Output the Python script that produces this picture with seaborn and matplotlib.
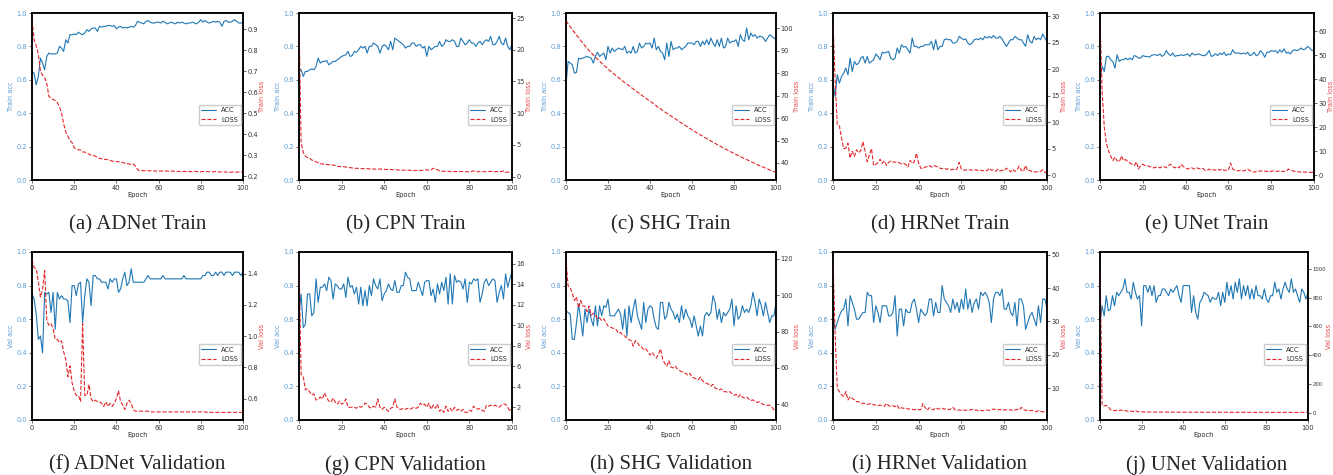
import numpy as np
import matplotlib
matplotlib.use("Agg")
import matplotlib.pyplot as plt
from matplotlib.ticker import MultipleLocator
import seaborn as sns

epochs = np.arange(101)

# ---- train curves ----
adnet_train_acc = [
    0.65, 0.64, 0.57, 0.62, 0.73, 0.70, 0.66, 0.74, 0.76, 0.755,
    0.755, 0.755, 0.76, 0.80, 0.79, 0.77, 0.84, 0.82, 0.87, 0.87,
    0.875, 0.87, 0.885, 0.875, 0.87, 0.88, 0.90, 0.89, 0.905, 0.91,
    0.91, 0.89, 0.92, 0.915, 0.92, 0.92, 0.925, 0.925, 0.92, 0.925,
    0.905, 0.915, 0.92, 0.91, 0.915, 0.91, 0.915, 0.92, 0.915, 0.925,
    0.95, 0.945, 0.94, 0.935, 0.95, 0.955, 0.945, 0.94, 0.94, 0.945,
    0.945, 0.94, 0.95, 0.945, 0.935, 0.94, 0.945, 0.94, 0.935, 0.945,
    0.94, 0.945, 0.94, 0.935, 0.94, 0.94, 0.945, 0.94, 0.935, 0.945,
    0.96, 0.945, 0.955, 0.945, 0.94, 0.945, 0.95, 0.945, 0.95, 0.945,
    0.92, 0.95, 0.955, 0.945, 0.945, 0.95, 0.96, 0.95, 0.94, 0.94,
    0.945]
adnet_train_loss = [
    0.94, 0.85, 0.82, 0.78, 0.70, 0.68, 0.67, 0.64, 0.58, 0.57,
    0.565, 0.56, 0.55, 0.53, 0.50, 0.45, 0.41, 0.39, 0.37, 0.36,
    0.335, 0.33, 0.325, 0.325, 0.315, 0.315, 0.31, 0.305, 0.30, 0.30,
    0.295, 0.29, 0.285, 0.283, 0.28, 0.28, 0.278, 0.275, 0.272, 0.27,
    0.27, 0.268, 0.268, 0.265, 0.262, 0.26, 0.258, 0.255, 0.258, 0.248,
    0.232, 0.226, 0.227, 0.226, 0.226, 0.227, 0.225, 0.226, 0.225, 0.224,
    0.224, 0.225, 0.224, 0.225, 0.224, 0.224, 0.225, 0.224, 0.223, 0.223,
    0.223, 0.222, 0.223, 0.222, 0.223, 0.222, 0.222, 0.223, 0.222, 0.221,
    0.221, 0.222, 0.221, 0.222, 0.221, 0.221, 0.221, 0.222, 0.221, 0.22,
    0.221, 0.22, 0.22, 0.219, 0.218, 0.22, 0.219, 0.219, 0.22, 0.219,
    0.219]

cpn_train_acc = [
    0.66, 0.66, 0.62, 0.65, 0.65, 0.66, 0.665, 0.66, 0.68, 0.73,
    0.70, 0.71, 0.71, 0.715, 0.69, 0.70, 0.71, 0.71, 0.72, 0.73,
    0.74, 0.745, 0.75, 0.77, 0.74, 0.745, 0.77, 0.765, 0.78, 0.80,
    0.79, 0.80, 0.76, 0.80, 0.80, 0.82, 0.81, 0.80, 0.76, 0.80,
    0.81, 0.80, 0.78, 0.83, 0.78, 0.85, 0.84, 0.83, 0.82, 0.81,
    0.79, 0.80, 0.80, 0.82, 0.82, 0.80, 0.81, 0.81, 0.79, 0.80,
    0.74, 0.80, 0.78, 0.79, 0.80, 0.80, 0.83, 0.80, 0.81, 0.84,
    0.83, 0.83, 0.84, 0.83, 0.80, 0.80, 0.85, 0.83, 0.81, 0.82,
    0.84, 0.82, 0.82, 0.80, 0.82, 0.83, 0.81, 0.83, 0.84, 0.83,
    0.86, 0.81, 0.81, 0.83, 0.86, 0.82, 0.81, 0.85, 0.80, 0.78,
    0.815]
cpn_train_loss = [
    24.6, 5.3, 3.8, 3.2, 3.0, 2.9, 2.6, 2.5, 2.3, 2.2,
    2.0, 2.0, 1.9, 1.9, 1.85, 1.9, 1.8, 1.75, 1.6, 1.6,
    1.5, 1.55, 1.5, 1.45, 1.4, 1.35, 1.3, 1.3, 1.28, 1.25,
    1.25, 1.22, 1.25, 1.2, 1.18, 1.2, 1.15, 1.2, 1.18, 1.15,
    1.15, 1.12, 1.1, 1.1, 1.08, 1.05, 1.05, 1.02, 1.05, 1.0,
    1.0, 0.98, 1.0, 0.97, 0.95, 0.95, 0.98, 0.95, 1.0, 1.02,
    1.05, 1.0, 1.05, 1.3, 1.2, 1.05, 0.9, 0.8, 0.85, 0.8,
    0.85, 0.8, 0.75, 0.8, 0.78, 0.8, 0.78, 0.8, 0.75, 0.75,
    0.75, 0.8, 0.9, 0.78, 0.75, 0.78, 0.8, 0.75, 0.78, 0.8,
    0.8, 0.78, 0.75, 0.8, 0.75, 0.78, 0.9, 0.65, 0.7, 0.7,
    0.7]

shg_train_acc = [
    0.57, 0.71, 0.70, 0.69, 0.64, 0.645, 0.73, 0.725, 0.73, 0.735,
    0.74, 0.735, 0.73, 0.70, 0.74, 0.765, 0.74, 0.75, 0.76, 0.72,
    0.80, 0.76, 0.79, 0.77, 0.78, 0.79, 0.785, 0.78, 0.80, 0.76,
    0.77, 0.76, 0.80, 0.76, 0.77, 0.82, 0.79, 0.80, 0.82, 0.815,
    0.82, 0.79, 0.85, 0.78, 0.80, 0.77, 0.76, 0.72, 0.82, 0.74,
    0.83, 0.78, 0.79, 0.79, 0.80, 0.78, 0.79, 0.80, 0.82, 0.82,
    0.82, 0.81, 0.83, 0.83, 0.80, 0.83, 0.81, 0.84, 0.81, 0.85,
    0.82, 0.80, 0.84, 0.80, 0.85, 0.79, 0.80, 0.85, 0.82, 0.83,
    0.83, 0.84, 0.80, 0.87, 0.84, 0.83, 0.91, 0.84, 0.88, 0.86,
    0.87, 0.85, 0.86, 0.86, 0.85, 0.83, 0.85, 0.87, 0.86, 0.85,
    0.84]
shg_train_loss = [
    103.5, 102.0, 100.8, 99.5, 98.3, 97.0, 95.9, 94.6, 93.5, 92.3,
    91.2, 90.2, 89.1, 88.2, 87.2, 86.3, 85.4, 84.5, 83.6, 82.8,
    82.0, 81.1, 80.4, 79.6, 78.8, 78.1, 77.3, 76.6, 75.8, 75.2,
    74.5, 73.7, 73.0, 72.4, 71.6, 71.0, 70.2, 69.6, 68.9, 68.2,
    67.6, 66.9, 66.3, 65.5, 64.6, 64.2, 63.4, 62.8, 62.2, 61.5,
    61.0, 60.3, 59.7, 59.1, 58.4, 57.8, 57.2, 56.6, 56.0, 55.4,
    54.8, 54.3, 53.6, 53.1, 52.5, 52.0, 51.4, 50.9, 50.3, 49.8,
    49.3, 48.8, 48.2, 47.7, 47.2, 46.7, 46.2, 45.7, 45.2, 44.7,
    44.3, 43.8, 43.3, 42.9, 42.4, 42.0, 41.5, 41.1, 40.6, 40.2,
    39.8, 39.3, 38.9, 38.5, 38.1, 37.7, 37.3, 36.9, 36.6, 36.2,
    35.8]

hrnet_train_acc = [
    0.58, 0.50, 0.63, 0.58, 0.62, 0.64, 0.67, 0.63, 0.73, 0.65,
    0.71, 0.69, 0.70, 0.73, 0.74, 0.70, 0.74, 0.70, 0.71, 0.72,
    0.755, 0.74, 0.72, 0.765, 0.76, 0.765, 0.77, 0.73, 0.72, 0.73,
    0.79, 0.76, 0.81, 0.795, 0.80, 0.78, 0.76, 0.85, 0.80, 0.80,
    0.79, 0.80, 0.80, 0.81, 0.81, 0.81, 0.83, 0.78, 0.84, 0.78,
    0.80, 0.80, 0.84, 0.845, 0.84, 0.84, 0.82, 0.82, 0.83, 0.86,
    0.85, 0.84, 0.845, 0.82, 0.81, 0.82, 0.84, 0.845, 0.84, 0.85,
    0.84, 0.86, 0.85, 0.86, 0.85, 0.865, 0.85, 0.85, 0.86, 0.845,
    0.82, 0.80, 0.82, 0.84, 0.84, 0.86, 0.85, 0.84, 0.84, 0.82,
    0.80, 0.87, 0.83, 0.82, 0.86, 0.84, 0.85, 0.84, 0.875, 0.85,
    0.83]
hrnet_train_loss = [
    29.2, 18.0, 9.5, 9.3, 7.0, 5.0, 5.1, 6.0, 3.2, 4.5,
    3.5, 4.8, 4.2, 4.6, 6.3, 4.5, 2.5, 3.8, 5.0, 1.8,
    2.0, 2.3, 3.0, 2.2, 2.7, 1.8, 2.4, 2.7, 2.5, 2.4,
    2.5, 2.3, 2.1, 2.2, 2.0, 1.5, 2.8, 2.2, 2.5, 4.1,
    2.3, 1.3, 1.2, 1.5, 1.6, 1.8, 1.5, 1.8, 1.7, 1.5,
    1.3, 1.2, 1.3, 1.1, 1.2, 1.0, 1.1, 0.9, 1.2, 2.4,
    1.1, 0.9, 1.0, 0.9, 1.0, 0.9, 0.9, 1.0, 0.8, 0.9,
    0.8, 0.9, 0.8, 1.3, 0.9, 1.0, 0.7, 1.1, 0.8, 0.9,
    0.8, 1.3, 1.0, 0.6, 1.1, 0.7, 1.0, 1.7, 0.9, 0.7,
    1.8, 0.8, 0.9, 0.6, 0.6, 0.6, 0.6, 0.7, 1.0, 0.5,
    0.5]

unet_train_acc = [
    0.60, 0.68, 0.65, 0.74, 0.74, 0.72, 0.71, 0.67, 0.75, 0.71,
    0.72, 0.72, 0.73, 0.72, 0.73, 0.72, 0.745, 0.74, 0.73, 0.73,
    0.745, 0.74, 0.74, 0.735, 0.745, 0.75, 0.75, 0.745, 0.755, 0.74,
    0.75, 0.775, 0.755, 0.745, 0.76, 0.74, 0.745, 0.745, 0.75, 0.745,
    0.75, 0.755, 0.74, 0.76, 0.75, 0.75, 0.755, 0.75, 0.745, 0.745,
    0.755, 0.775, 0.74, 0.745, 0.755, 0.745, 0.76, 0.75, 0.765, 0.745,
    0.755, 0.75, 0.78, 0.76, 0.76, 0.76, 0.755, 0.76, 0.755, 0.765,
    0.745, 0.75, 0.765, 0.745, 0.75, 0.775, 0.76, 0.735, 0.765, 0.765,
    0.775, 0.77, 0.775, 0.76, 0.78, 0.765, 0.785, 0.76, 0.765, 0.755,
    0.775, 0.78, 0.775, 0.78, 0.79, 0.78, 0.785, 0.80, 0.79, 0.775,
    0.78]
unet_train_loss = [
    64.5, 35.0, 20.0, 13.0, 10.0, 8.0, 6.0, 7.5, 6.0, 5.5,
    8.0, 6.0, 6.5, 5.5, 5.0, 4.5, 4.0, 5.5, 2.5, 4.0,
    4.5, 4.0, 4.0, 3.5, 3.5, 3.0, 3.2, 3.5, 3.0, 3.5,
    3.5, 3.0, 4.0, 4.5, 3.5, 3.0, 3.5, 3.0, 4.5, 3.5,
    3.0, 2.5, 3.0, 3.0, 2.5, 3.0, 2.8, 2.5, 2.8, 2.0,
    2.0, 2.5, 2.0, 2.3, 2.0, 2.5, 2.0, 2.5, 2.0, 2.0,
    2.0, 5.0, 2.5, 2.0, 1.8, 1.8, 2.0, 1.7, 2.0, 2.5,
    1.8, 1.5, 1.2, 1.5, 1.5, 1.8, 1.5, 1.6, 1.5, 1.8,
    1.5, 1.8, 1.6, 1.5, 1.8, 1.5, 1.6, 1.5, 2.5, 2.0,
    1.8, 1.5, 1.5, 1.3, 1.2, 1.3, 1.2, 1.2, 1.1, 1.1,
    1.2]

# ---- validation curves ----
adnet_val_acc = [
    0.75, 0.72, 0.63, 0.48, 0.50, 0.40, 0.76, 0.75, 0.76, 0.64,
    0.76, 0.54, 0.76, 0.72, 0.74, 0.72, 0.72, 0.71, 0.58, 0.80,
    0.80, 0.74, 0.81, 0.82, 0.58, 0.74, 0.84, 0.82, 0.68, 0.86,
    0.86, 0.84, 0.84, 0.82, 0.82, 0.82, 0.78, 0.84, 0.82, 0.84,
    0.84, 0.76, 0.78, 0.84, 0.88, 0.80, 0.82, 0.90, 0.82, 0.82,
    0.82, 0.82, 0.82, 0.82, 0.84, 0.86, 0.84, 0.84, 0.84, 0.84,
    0.84, 0.84, 0.86, 0.84, 0.84, 0.84, 0.84, 0.84, 0.84, 0.84,
    0.84, 0.84, 0.86, 0.84, 0.84, 0.84, 0.84, 0.84, 0.84, 0.84,
    0.84, 0.86, 0.86, 0.88, 0.88, 0.86, 0.86, 0.88, 0.86, 0.88,
    0.88, 0.86, 0.88, 0.88, 0.88, 0.86, 0.88, 0.88, 0.88, 0.86,
    0.88]
adnet_val_loss = [
    1.49, 1.44, 1.43, 1.35, 1.25, 1.30, 1.42, 1.10, 1.07, 1.08,
    1.05, 0.98, 0.98, 0.96, 0.97, 0.90, 0.85, 0.74, 0.81, 0.70,
    0.65, 0.62, 0.62, 0.58, 1.08, 0.62, 0.62, 0.69, 0.60, 0.58,
    0.59, 0.58, 0.58, 0.57, 0.55, 0.58, 0.55, 0.57, 0.55, 0.57,
    0.60, 0.65, 0.58, 0.56, 0.53, 0.57, 0.59, 0.57, 0.53, 0.52,
    0.52, 0.52, 0.52, 0.52, 0.52, 0.52, 0.515, 0.515, 0.515, 0.515,
    0.515, 0.515, 0.515, 0.515, 0.515, 0.515, 0.515, 0.515, 0.515, 0.515,
    0.515, 0.515, 0.515, 0.515, 0.515, 0.515, 0.515, 0.515, 0.515, 0.515,
    0.515, 0.515, 0.515, 0.512, 0.512, 0.512, 0.512, 0.512, 0.512, 0.512,
    0.512, 0.512, 0.512, 0.512, 0.512, 0.512, 0.512, 0.512, 0.512, 0.512,
    0.512]

cpn_val_acc = [
    0.64, 0.75, 0.55, 0.57, 0.75, 0.75, 0.62, 0.64, 0.84, 0.70,
    0.79, 0.79, 0.81, 0.77, 0.85, 0.83, 0.72, 0.81, 0.80, 0.78,
    0.78, 0.81, 0.73, 0.85, 0.79, 0.80, 0.75, 0.79, 0.69, 0.79,
    0.68, 0.77, 0.68, 0.80, 0.74, 0.84, 0.80, 0.78, 0.84, 0.71,
    0.75, 0.77, 0.81, 0.78, 0.77, 0.83, 0.76, 0.76, 0.80, 0.80,
    0.88, 0.85, 0.84, 0.77, 0.77, 0.77, 0.82, 0.78, 0.74, 0.82,
    0.83, 0.83, 0.74, 0.78, 0.70, 0.81, 0.75, 0.82, 0.77, 0.85,
    0.69, 0.87, 0.69, 0.86, 0.82, 0.83, 0.82, 0.78, 0.84, 0.70,
    0.82, 0.81, 0.84, 0.83, 0.84, 0.70, 0.75, 0.82, 0.84, 0.80,
    0.82, 0.84, 0.83, 0.70, 0.76, 0.80, 0.72, 0.87, 0.79, 0.84,
    0.88]
cpn_val_loss = [
    16.4, 5.2, 5.0, 3.7, 3.8, 3.5, 3.2, 3.3, 2.7, 2.8,
    3.0, 2.8, 3.4, 2.9, 2.6, 2.5, 2.9, 2.5, 2.3, 2.6,
    2.3, 2.4, 2.8, 2.0, 2.0, 2.0, 2.0, 1.9, 2.1, 2.0,
    2.1, 2.4, 2.3, 2.0, 1.9, 2.1, 2.0, 2.8, 2.0, 1.8,
    2.0, 1.8, 1.6, 1.9, 2.0, 2.8, 2.0, 1.8, 1.8, 1.9,
    1.8, 1.9, 1.8, 1.9, 2.0, 1.9, 2.0, 2.4, 2.2, 2.3,
    2.0, 2.4, 1.8, 2.2, 1.9, 2.3, 1.6, 1.8, 1.5, 2.1,
    1.6, 1.9, 1.6, 2.0, 1.7, 1.8, 1.6, 1.8, 1.5, 1.5,
    1.7, 1.6, 2.1, 1.9, 1.8, 1.9, 1.7, 1.6, 2.2, 2.1,
    2.2, 2.1, 2.2, 2.1, 2.0, 2.2, 2.3, 2.3, 2.0, 1.6,
    1.9]

shg_val_acc = [
    0.65, 0.64, 0.63, 0.48, 0.48, 0.58, 0.69, 0.60, 0.50, 0.66,
    0.58, 0.66, 0.60, 0.56, 0.68, 0.56, 0.68, 0.62, 0.68, 0.67,
    0.72, 0.62, 0.62, 0.62, 0.64, 0.66, 0.63, 0.54, 0.66, 0.50,
    0.68, 0.58, 0.66, 0.72, 0.62, 0.58, 0.54, 0.70, 0.58, 0.66,
    0.68, 0.67, 0.60, 0.55, 0.54, 0.70, 0.70, 0.60, 0.62, 0.70,
    0.66, 0.64, 0.60, 0.63, 0.58, 0.68, 0.60, 0.66, 0.62, 0.60,
    0.55, 0.62, 0.56, 0.50, 0.56, 0.50, 0.62, 0.64, 0.62, 0.64,
    0.74, 0.70, 0.60, 0.66, 0.58, 0.64, 0.62, 0.64, 0.66, 0.72,
    0.56, 0.68, 0.60, 0.62, 0.68, 0.64, 0.66, 0.64, 0.68, 0.76,
    0.70, 0.62, 0.72, 0.68, 0.62, 0.70, 0.64, 0.58, 0.62, 0.62,
    0.70]
shg_val_loss = [
    119.5, 105.0, 104.0, 101.0, 97.0, 99.0, 93.0, 97.0, 94.0, 94.0,
    91.0, 94.0, 89.0, 90.0, 89.0, 87.0, 87.5, 86.0, 87.0, 85.0,
    83.0, 82.5, 82.0, 81.5, 81.0, 79.0, 79.5, 78.0, 77.5, 76.5,
    75.5, 75.0, 72.0, 75.0, 74.0, 72.0, 71.5, 70.0, 70.5, 69.0,
    67.0, 68.5, 67.0, 65.5, 67.5, 70.5, 65.0, 62.5, 61.0, 64.0,
    60.5, 60.0, 61.0, 59.5, 58.5, 58.0, 57.5, 57.0, 56.0, 57.0,
    55.0, 54.5, 54.0, 53.5, 55.0, 53.0, 52.0, 51.5, 51.0, 50.0,
    51.0, 49.0, 48.5, 48.0, 48.5, 47.0, 47.0, 46.5, 47.0, 46.0,
    45.0, 45.5, 44.0, 45.5, 44.0, 43.5, 44.0, 43.0, 42.0, 42.5,
    41.5, 41.0, 41.5, 40.5, 40.0, 39.5, 39.5, 39.5, 38.5, 37.0,
    35.6]

hrnet_val_acc = [
    0.62, 0.54, 0.58, 0.62, 0.65, 0.66, 0.72, 0.56, 0.74, 0.70,
    0.66, 0.60, 0.60, 0.62, 0.64, 0.64, 0.76, 0.74, 0.74, 0.58,
    0.68, 0.64, 0.58, 0.68, 0.68, 0.68, 0.62, 0.62, 0.64, 0.74,
    0.50, 0.66, 0.66, 0.56, 0.66, 0.64, 0.64, 0.70, 0.72, 0.66,
    0.58, 0.66, 0.64, 0.62, 0.64, 0.72, 0.72, 0.62, 0.70, 0.64,
    0.64, 0.80, 0.72, 0.70, 0.68, 0.64, 0.72, 0.66, 0.70, 0.64,
    0.72, 0.66, 0.78, 0.66, 0.72, 0.64, 0.70, 0.72, 0.66, 0.76,
    0.74, 0.76, 0.74, 0.70, 0.58, 0.72, 0.76, 0.76, 0.74, 0.78,
    0.66, 0.66, 0.70, 0.64, 0.62, 0.70, 0.56, 0.72, 0.72, 0.68,
    0.54, 0.58, 0.62, 0.64, 0.60, 0.56, 0.68, 0.58, 0.72, 0.72,
    0.66]
hrnet_val_loss = [
    48.5, 26.0, 10.0, 9.0, 8.0, 7.5, 9.0, 6.5, 7.5, 7.0,
    6.5, 6.0, 6.0, 5.5, 5.5, 5.5, 5.2, 5.3, 5.5, 5.0,
    5.0, 4.8, 5.0, 4.8, 4.6, 5.5, 4.8, 4.6, 4.8, 4.5,
    5.0, 3.8, 4.2, 4.0, 4.1, 3.8, 3.8, 3.7, 3.6, 3.8,
    3.6, 3.6, 5.4, 4.3, 3.4, 4.2, 3.7, 3.6, 4.2, 3.8,
    3.9, 4.0, 3.8, 3.9, 3.6, 3.8, 4.3, 3.6, 3.4, 3.5,
    3.4, 3.5, 3.4, 3.6, 3.5, 3.7, 3.4, 3.5, 3.3, 3.4,
    3.3, 3.4, 3.5, 3.4, 3.6, 3.8, 3.6, 3.5, 3.7, 3.4,
    3.6, 3.5, 3.4, 3.6, 3.3, 3.5, 3.7, 3.5, 4.3, 3.6,
    3.4, 3.5, 3.3, 3.4, 3.2, 3.0, 3.3, 3.1, 3.0, 2.8,
    3.2]

unet_val_acc = [
    0.58, 0.68, 0.62, 0.74, 0.65, 0.66, 0.74, 0.68, 0.76, 0.74,
    0.76, 0.78, 0.84, 0.76, 0.76, 0.72, 0.82, 0.76, 0.72, 0.74,
    0.56, 0.80, 0.80, 0.76, 0.80, 0.74, 0.80, 0.70, 0.74, 0.74,
    0.78, 0.78, 0.76, 0.74, 0.78, 0.76, 0.78, 0.80, 0.74, 0.70,
    0.80, 0.80, 0.80, 0.80, 0.64, 0.74, 0.64, 0.60, 0.70, 0.72,
    0.76, 0.75, 0.74, 0.70, 0.73, 0.72, 0.72, 0.76, 0.68, 0.76,
    0.70, 0.82, 0.74, 0.80, 0.72, 0.82, 0.76, 0.84, 0.72, 0.80,
    0.74, 0.80, 0.72, 0.78, 0.72, 0.80, 0.74, 0.74, 0.72, 0.78,
    0.72, 0.70, 0.74, 0.74, 0.82, 0.76, 0.78, 0.72, 0.78, 0.82,
    0.78, 0.76, 0.84, 0.76, 0.78, 0.74, 0.70, 0.78, 0.76, 0.72,
    0.76]
unet_val_loss = [
    1065, 50, 45, 50, 40, 20, 15, 12, 15, 12,
    18, 12, 14, 10, 8, 10, 6, 14, 6, 5,
    4, 4, 4, 3.5, 3.5, 3, 3, 3, 3, 3,
    3, 3, 2.5, 2.5, 2.5, 2.5, 2.5, 2.5, 2, 2,
    2, 2, 2, 2, 2, 2, 2, 2, 2, 2,
    2, 1.8, 1.8, 1.8, 1.8, 1.8, 1.8, 1.8, 1.8, 1.8,
    1.5, 1.5, 1.5, 1.5, 1.5, 1.5, 1.5, 1.5, 1.5, 1.5,
    1.5, 1.2, 1.2, 1.2, 1.2, 1.2, 1.2, 1.2, 1.2, 1.2,
    1.2, 1.2, 1, 1, 1, 1, 1, 1, 1, 1,
    1, 1, 1, 1, 1, 1, 1, 1, 1, 1,
    1]

captions = [
    "(a) ADNet Train", "(b) CPN Train", "(c) SHG Train", "(d) HRNet Train", "(e) UNet Train",
    "(f) ADNet Validation", "(g) CPN Validation", "(h) SHG Validation",
    "(i) HRNet Validation", "(j) UNet Validation",
]

panels = [
    ("Train", adnet_train_acc, adnet_train_loss, 0.1),
    ("Train", cpn_train_acc, cpn_train_loss, 5),
    ("Train", shg_train_acc, shg_train_loss, 10),
    ("Train", hrnet_train_acc, hrnet_train_loss, 5),
    ("Train", unet_train_acc, unet_train_loss, 10),
    ("Val", adnet_val_acc, adnet_val_loss, 0.2),
    ("Val", cpn_val_acc, cpn_val_loss, 2),
    ("Val", shg_val_acc, shg_val_loss, 20),
    ("Val", hrnet_val_acc, hrnet_val_loss, 10),
    ("Val", unet_val_acc, unet_val_loss, 200),
]

sns.set_theme(style="ticks")
plt.rcParams["font.family"] = ["DejaVu Sans"]

BLUE = "#1f77b4"
RED = "#e3262a"
LIGHT_BLUE = "#5b9bd5"
LIGHT_RED = "#e8474a"
FS = 4.8

W, H = 1333, 475
fig = plt.figure(figsize=(W / 100, H / 100), dpi=100)

# pixel boxes of each axes (left, right) and (top, bottom)
cols = [(32, 243), (299, 512), (566, 776), (833, 1047), (1100, 1314)]
rows = [(13, 180), (252, 420)]
caption_y = [225, 465]

for i, (prefix, acc, loss, step) in enumerate(panels):
    r, c = divmod(i, 5)
    x0, x1 = cols[c]
    y0, y1 = rows[r]
    cap_x = (x0 + x1) / 2
    # the 4-digit loss ticks of the last panel are smaller in the source,
    # and the plot is a touch narrower so its right label stays on the page
    big = step >= 200
    if big:
        x1 -= 6
    right_fs = 3.8 if big else FS

    ax = fig.add_axes([x0 / W, 1 - y1 / H, (x1 - x0) / W, (y1 - y0) / H])
    ax2 = ax.twinx()

    sns.lineplot(x=epochs, y=acc, ax=ax, color=BLUE, lw=0.8)
    acc_line = ax.lines[-1]
    sns.lineplot(x=epochs, y=loss, ax=ax2, color=RED, lw=0.8, linestyle="--")
    loss_line = ax2.lines[-1]

    ax.set_xlim(0, 100)
    ax.set_ylim(0, 1)
    ax.yaxis.set_major_locator(MultipleLocator(0.2))
    ax2.yaxis.set_major_locator(MultipleLocator(step))

    ax.set_xlabel("Epoch", fontsize=FS, labelpad=1)
    ax.set_ylabel(f"{prefix} acc", fontsize=FS, color=LIGHT_BLUE, labelpad=2)
    ax2.set_ylabel(f"{prefix} loss", fontsize=FS, color=LIGHT_RED,
                   labelpad=0.3 if big else 0.5)

    ax.tick_params(axis="x", labelsize=FS, length=2, width=0.5, pad=1.5, colors="#333333")
    ax.tick_params(axis="y", labelsize=FS, length=2, width=0.5, pad=1.5, labelcolor=LIGHT_BLUE)
    ax2.tick_params(axis="y", labelsize=right_fs, length=2, width=0.5,
                    pad=1.0 if big else 1.2, labelcolor="#333333")
    for a in (ax, ax2):
        for sp in a.spines.values():
            sp.set_color("black")
            sp.set_linewidth(1.1)

    ax2.legend([acc_line, loss_line], ["ACC", "LOSS"], loc="center right",
               bbox_to_anchor=(0.99, 0.39), fontsize=FS, handlelength=2.2,
               borderaxespad=0, frameon=True, framealpha=1, edgecolor="#cccccc")

    fig.text(cap_x / W, 1 - caption_y[r] / H, captions[i],
             ha="center", va="center", fontsize=15, family="Liberation Serif")

fig.savefig("out.png", dpi=100)
